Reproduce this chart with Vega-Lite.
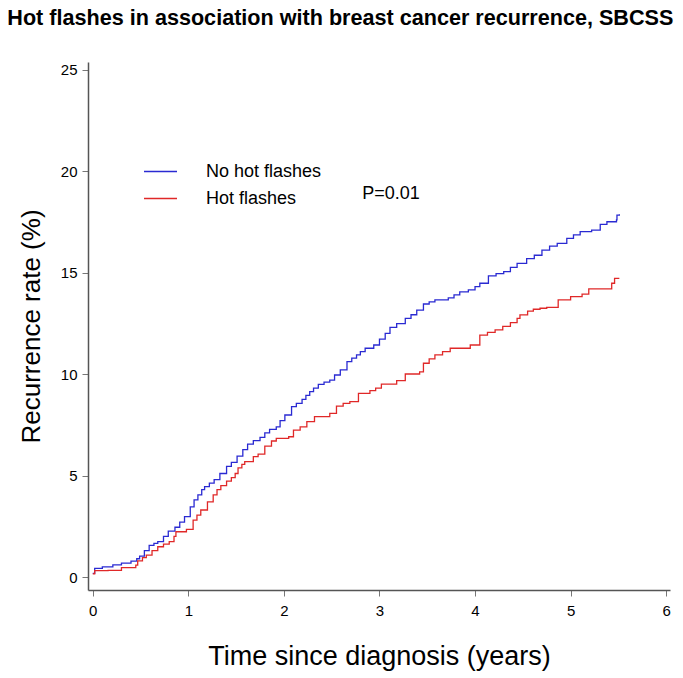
{
  "$schema": "https://vega.github.io/schema/vega-lite/v6.json",
  "width": 582,
  "height": 528,
  "autosize": "none",
  "padding": {"left": 88, "top": 62, "right": 13, "bottom": 88},
  "background": "white",
  "config": {
    "font": "Liberation Sans",
    "view": {"stroke": null},
    "axis": {"grid": false, "domainColor": "#555555", "domainWidth": 1.5, "tickColor": "#777777", "tickSize": 6, "labelColor": "black", "labelFontSize": 15, "titleColor": "black", "titleFontSize": 26, "titleFontWeight": "normal"}
  },
  "title": {"text": "Hot flashes in association with breast cancer recurrence, SBCSS", "fontSize": 21.6, "fontWeight": "bold", "color": "black", "anchor": "middle", "frame": "bounds", "offset": 32, "dx": -4},
  "layer": [
    {
      "data": {"values": [
        {"group":"No hot flashes","time":0,"rate":0.18},{"group":"No hot flashes","time":0.02,"rate":0.43},{"group":"No hot flashes","time":0.1,"rate":0.5},{"group":"No hot flashes","time":0.21,"rate":0.6},{"group":"No hot flashes","time":0.3,"rate":0.68},{"group":"No hot flashes","time":0.4,"rate":0.78},{"group":"No hot flashes","time":0.46,"rate":0.9},{"group":"No hot flashes","time":0.49,"rate":1.03},{"group":"No hot flashes","time":0.54,"rate":1.3},{"group":"No hot flashes","time":0.59,"rate":1.56},{"group":"No hot flashes","time":0.64,"rate":1.66},{"group":"No hot flashes","time":0.68,"rate":1.74},{"group":"No hot flashes","time":0.74,"rate":2.0},{"group":"No hot flashes","time":0.79,"rate":2.26},{"group":"No hot flashes","time":0.86,"rate":2.45},{"group":"No hot flashes","time":0.91,"rate":2.7},{"group":"No hot flashes","time":0.96,"rate":2.97},{"group":"No hot flashes","time":1.02,"rate":3.45},{"group":"No hot flashes","time":1.06,"rate":3.8},{"group":"No hot flashes","time":1.1,"rate":4.05},{"group":"No hot flashes","time":1.14,"rate":4.3},{"group":"No hot flashes","time":1.17,"rate":4.45},{"group":"No hot flashes","time":1.22,"rate":4.62},{"group":"No hot flashes","time":1.27,"rate":4.8},{"group":"No hot flashes","time":1.33,"rate":5.1},{"group":"No hot flashes","time":1.4,"rate":5.45},{"group":"No hot flashes","time":1.45,"rate":5.65},{"group":"No hot flashes","time":1.51,"rate":5.95},{"group":"No hot flashes","time":1.57,"rate":6.28},{"group":"No hot flashes","time":1.62,"rate":6.55},{"group":"No hot flashes","time":1.68,"rate":6.72},{"group":"No hot flashes","time":1.75,"rate":6.88},{"group":"No hot flashes","time":1.8,"rate":7.1},{"group":"No hot flashes","time":1.85,"rate":7.27},{"group":"No hot flashes","time":1.92,"rate":7.4},{"group":"No hot flashes","time":1.96,"rate":7.7},{"group":"No hot flashes","time":2.01,"rate":7.98},{"group":"No hot flashes","time":2.08,"rate":8.39},{"group":"No hot flashes","time":2.13,"rate":8.55},{"group":"No hot flashes","time":2.19,"rate":8.75},{"group":"No hot flashes","time":2.23,"rate":8.95},{"group":"No hot flashes","time":2.27,"rate":9.13},{"group":"No hot flashes","time":2.31,"rate":9.3},{"group":"No hot flashes","time":2.36,"rate":9.49},{"group":"No hot flashes","time":2.42,"rate":9.6},{"group":"No hot flashes","time":2.48,"rate":9.7},{"group":"No hot flashes","time":2.53,"rate":9.95},{"group":"No hot flashes","time":2.59,"rate":10.2},{"group":"No hot flashes","time":2.66,"rate":10.61},{"group":"No hot flashes","time":2.71,"rate":10.78},{"group":"No hot flashes","time":2.76,"rate":10.94},{"group":"No hot flashes","time":2.8,"rate":11.1},{"group":"No hot flashes","time":2.85,"rate":11.27},{"group":"No hot flashes","time":2.94,"rate":11.43},{"group":"No hot flashes","time":3.0,"rate":11.72},{"group":"No hot flashes","time":3.06,"rate":12.0},{"group":"No hot flashes","time":3.11,"rate":12.3},{"group":"No hot flashes","time":3.18,"rate":12.48},{"group":"No hot flashes","time":3.27,"rate":12.74},{"group":"No hot flashes","time":3.33,"rate":12.92},{"group":"No hot flashes","time":3.39,"rate":13.15},{"group":"No hot flashes","time":3.46,"rate":13.45},{"group":"No hot flashes","time":3.52,"rate":13.55},{"group":"No hot flashes","time":3.58,"rate":13.65},{"group":"No hot flashes","time":3.72,"rate":13.75},{"group":"No hot flashes","time":3.78,"rate":13.9},{"group":"No hot flashes","time":3.84,"rate":14.05},{"group":"No hot flashes","time":3.93,"rate":14.14},{"group":"No hot flashes","time":4.0,"rate":14.3},{"group":"No hot flashes","time":4.05,"rate":14.47},{"group":"No hot flashes","time":4.14,"rate":14.83},{"group":"No hot flashes","time":4.22,"rate":14.95},{"group":"No hot flashes","time":4.3,"rate":15.04},{"group":"No hot flashes","time":4.37,"rate":15.25},{"group":"No hot flashes","time":4.44,"rate":15.45},{"group":"No hot flashes","time":4.54,"rate":15.68},{"group":"No hot flashes","time":4.62,"rate":15.85},{"group":"No hot flashes","time":4.7,"rate":16.1},{"group":"No hot flashes","time":4.78,"rate":16.3},{"group":"No hot flashes","time":4.86,"rate":16.44},{"group":"No hot flashes","time":4.96,"rate":16.68},{"group":"No hot flashes","time":5.03,"rate":16.85},{"group":"No hot flashes","time":5.1,"rate":17.01},{"group":"No hot flashes","time":5.22,"rate":17.09},{"group":"No hot flashes","time":5.31,"rate":17.37},{"group":"No hot flashes","time":5.38,"rate":17.5},{"group":"No hot flashes","time":5.48,"rate":17.59},{"group":"No hot flashes","time":5.485,"rate":17.83},{"group":"No hot flashes","time":5.51,"rate":17.87},
        {"group":"Hot flashes","time":0,"rate":0.15},{"group":"Hot flashes","time":0.02,"rate":0.31},{"group":"Hot flashes","time":0.16,"rate":0.33},{"group":"Hot flashes","time":0.3,"rate":0.46},{"group":"Hot flashes","time":0.45,"rate":0.59},{"group":"Hot flashes","time":0.47,"rate":0.79},{"group":"Hot flashes","time":0.52,"rate":0.95},{"group":"Hot flashes","time":0.56,"rate":1.08},{"group":"Hot flashes","time":0.62,"rate":1.3},{"group":"Hot flashes","time":0.68,"rate":1.49},{"group":"Hot flashes","time":0.74,"rate":1.62},{"group":"Hot flashes","time":0.8,"rate":1.74},{"group":"Hot flashes","time":0.85,"rate":2.0},{"group":"Hot flashes","time":0.87,"rate":2.23},{"group":"Hot flashes","time":0.98,"rate":2.35},{"group":"Hot flashes","time":1.05,"rate":2.8},{"group":"Hot flashes","time":1.09,"rate":3.05},{"group":"Hot flashes","time":1.13,"rate":3.3},{"group":"Hot flashes","time":1.2,"rate":3.7},{"group":"Hot flashes","time":1.26,"rate":4.05},{"group":"Hot flashes","time":1.3,"rate":4.3},{"group":"Hot flashes","time":1.34,"rate":4.5},{"group":"Hot flashes","time":1.4,"rate":4.72},{"group":"Hot flashes","time":1.45,"rate":4.9},{"group":"Hot flashes","time":1.49,"rate":5.1},{"group":"Hot flashes","time":1.52,"rate":5.38},{"group":"Hot flashes","time":1.56,"rate":5.55},{"group":"Hot flashes","time":1.59,"rate":5.68},{"group":"Hot flashes","time":1.68,"rate":5.93},{"group":"Hot flashes","time":1.73,"rate":6.05},{"group":"Hot flashes","time":1.8,"rate":6.45},{"group":"Hot flashes","time":1.87,"rate":6.7},{"group":"Hot flashes","time":1.92,"rate":6.83},{"group":"Hot flashes","time":2.05,"rate":6.91},{"group":"Hot flashes","time":2.1,"rate":7.24},{"group":"Hot flashes","time":2.17,"rate":7.4},{"group":"Hot flashes","time":2.24,"rate":7.65},{"group":"Hot flashes","time":2.32,"rate":7.9},{"group":"Hot flashes","time":2.48,"rate":8.06},{"group":"Hot flashes","time":2.55,"rate":8.42},{"group":"Hot flashes","time":2.62,"rate":8.55},{"group":"Hot flashes","time":2.69,"rate":8.64},{"group":"Hot flashes","time":2.78,"rate":9.05},{"group":"Hot flashes","time":2.9,"rate":9.18},{"group":"Hot flashes","time":2.96,"rate":9.3},{"group":"Hot flashes","time":3.02,"rate":9.5},{"group":"Hot flashes","time":3.18,"rate":9.67},{"group":"Hot flashes","time":3.27,"rate":10.0},{"group":"Hot flashes","time":3.42,"rate":10.11},{"group":"Hot flashes","time":3.46,"rate":10.53},{"group":"Hot flashes","time":3.52,"rate":10.75},{"group":"Hot flashes","time":3.58,"rate":10.94},{"group":"Hot flashes","time":3.66,"rate":11.1},{"group":"Hot flashes","time":3.74,"rate":11.27},{"group":"Hot flashes","time":3.95,"rate":11.43},{"group":"Hot flashes","time":4.05,"rate":11.92},{"group":"Hot flashes","time":4.13,"rate":12.05},{"group":"Hot flashes","time":4.21,"rate":12.17},{"group":"Hot flashes","time":4.29,"rate":12.35},{"group":"Hot flashes","time":4.37,"rate":12.53},{"group":"Hot flashes","time":4.44,"rate":12.74},{"group":"Hot flashes","time":4.47,"rate":12.91},{"group":"Hot flashes","time":4.55,"rate":13.1},{"group":"Hot flashes","time":4.61,"rate":13.19},{"group":"Hot flashes","time":4.68,"rate":13.24},{"group":"Hot flashes","time":4.75,"rate":13.28},{"group":"Hot flashes","time":4.87,"rate":13.65},{"group":"Hot flashes","time":5.0,"rate":13.81},{"group":"Hot flashes","time":5.12,"rate":13.94},{"group":"Hot flashes","time":5.19,"rate":14.19},{"group":"Hot flashes","time":5.43,"rate":14.47},{"group":"Hot flashes","time":5.46,"rate":14.71},{"group":"Hot flashes","time":5.51,"rate":14.71}
      ]},
      "mark": {"type": "line", "interpolate": "step-after", "strokeWidth": 1.3},
      "encoding": {
        "x": {"field": "time", "type": "quantitative", "scale": {"domain": [-0.05, 6.04], "nice": false, "zero": false}, "axis": {"values": [0,1,2,3,4,5,6], "format": "d", "title": "Time since diagnosis (years)", "titleFontSize": 27, "labelPadding": 7, "titlePadding": 25}},
        "y": {"field": "rate", "type": "quantitative", "scale": {"domain": [-0.64, 25.37], "nice": false, "zero": false}, "axis": {"values": [0,5,10,15,20,25], "title": "Recurrence rate (%)", "labelPadding": 5, "titlePadding": 16}},
        "color": {"field": "group", "type": "nominal", "scale": {"domain": ["No hot flashes", "Hot flashes"], "range": ["#2a2ad2", "#e02828"]}, "legend": {"title": null, "orient": "none", "legendX": 55, "legendY": 92, "symbolType": "stroke", "symbolSize": 1089, "symbolStrokeWidth": 1.3, "labelFontSize": 18, "labelColor": "black", "labelOffset": 28, "rowPadding": -11}},
        "order": {"field": "time", "type": "quantitative"}
      }
    },
    {
      "data": {"values": [{"label": "P=0.01", "time": 2.82, "rate": 18.87}]},
      "mark": {"type": "text", "align": "left", "baseline": "middle", "fontSize": 18, "color": "black"},
      "encoding": {
        "x": {"field": "time", "type": "quantitative"},
        "y": {"field": "rate", "type": "quantitative"},
        "text": {"field": "label", "type": "nominal"}
      }
    }
  ]
}
